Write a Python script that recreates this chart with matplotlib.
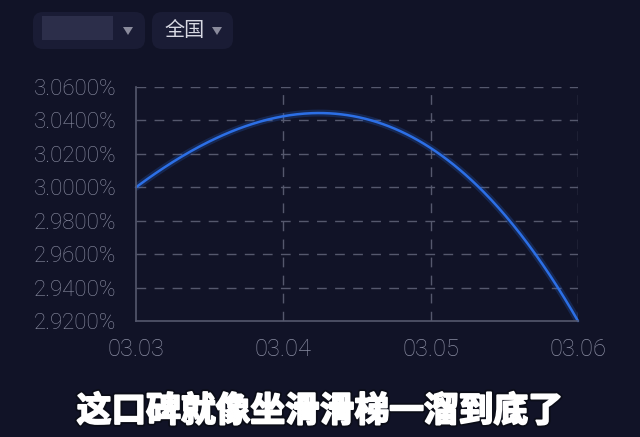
import numpy as np
import matplotlib.pyplot as plt
import matplotlib.patheffects as pe
from matplotlib.patches import FancyBboxPatch, Rectangle, Polygon

# data
dates = ["03.03", "03.04", "03.05", "03.06"]
rates = [3.0000, 3.0425, 3.0235, 2.9200]
y_ticks = [2.92, 2.94, 2.96, 2.98, 3.00, 3.02, 3.04, 3.06]
region = "全国"
caption = "这口碑就像坐滑滑梯一溜到底了"

bg = "#111327"
grid_c = "#55586d"
tick_c = "#8b8ea3"
line_c = "#2c6fe6"

W, H = 640, 437
fig = plt.figure(figsize=(W / 100, H / 100), dpi=100)
fig.patch.set_facecolor(bg)

# top dropdown boxes
top = fig.add_axes([0, 0, 1, 1])
top.set_xlim(0, W)
top.set_ylim(H, 0)
top.axis("off")
top.add_patch(FancyBboxPatch((33, 12), 112, 37, boxstyle="round,pad=0,rounding_size=10",
                             fc="#1a1c35", ec="none"))
top.add_patch(FancyBboxPatch((152, 12), 81, 37, boxstyle="round,pad=0,rounding_size=10",
                             fc="#1a1c35", ec="none"))
top.add_patch(Rectangle((42, 16), 71, 24, fc="#2c2e4a", ec="none"))
for tx in (128, 217):
    top.add_patch(Polygon([[tx - 5, 27], [tx + 5, 27], [tx, 35]], closed=True,
                          fc="#8a8b9c", ec="none"))
top.text(185, 30, region, color="#d7d8e2", fontsize=14.5, ha="center", va="center",
         family=["Noto Sans CJK SC", "DejaVu Sans"])

# chart
ax = fig.add_axes([136 / W, (H - 321) / H, (578 - 136) / W, (321 - 87) / H])
ax.set_facecolor(bg)
x = np.arange(len(dates))
coef = np.polyfit(x, rates, len(rates) - 1)
xs = np.linspace(0, len(dates) - 1, 300)
ax.plot(xs, np.polyval(coef, xs), color=line_c, lw=5, alpha=0.22, solid_capstyle="round")
ax.plot(xs, np.polyval(coef, xs), color=line_c, lw=1.8, solid_capstyle="round", clip_on=False)

ax.set_xlim(0, len(dates) - 1)
ax.set_ylim(y_ticks[0], y_ticks[-1])
ax.set_xticks(x)
ax.set_xticklabels(dates)
ax.set_yticks(y_ticks)
ax.set_yticklabels(["%.4f%%" % v for v in y_ticks])

for v in y_ticks[1:]:
    ax.axhline(v, color=grid_c, lw=1, dashes=(7, 6), zorder=0)
for v in x[1:]:
    ax.axvline(v, color=grid_c, lw=1, dashes=(7, 6), zorder=0)

for s in ("top", "right"):
    ax.spines[s].set_visible(False)
for s in ("left", "bottom"):
    ax.spines[s].set_color(grid_c)
    ax.spines[s].set_linewidth(1.2)

ax.tick_params(length=0, colors=tick_c)
ax.tick_params(axis="y", pad=14)
ax.tick_params(axis="x", pad=12)
for lab in ax.get_yticklabels():
    lab.set_family("Roboto")
    lab.set_fontweight("light")
    lab.set_fontsize(16)
for lab in ax.get_xticklabels():
    lab.set_family("Roboto")
    lab.set_fontweight("light")
    lab.set_fontsize(17)

# caption
t = fig.text(0.5, (H - 411) / H, caption, color="white", fontsize=25, fontweight="bold",
             ha="center", va="center", family=["Noto Sans CJK SC", "DejaVu Sans"])
t.set_path_effects([pe.Stroke(linewidth=4, foreground="#0b0d18"),
                    pe.Stroke(linewidth=1.4, foreground="white"), pe.Normal()])

fig.savefig("out.png", dpi=100, facecolor=bg)
